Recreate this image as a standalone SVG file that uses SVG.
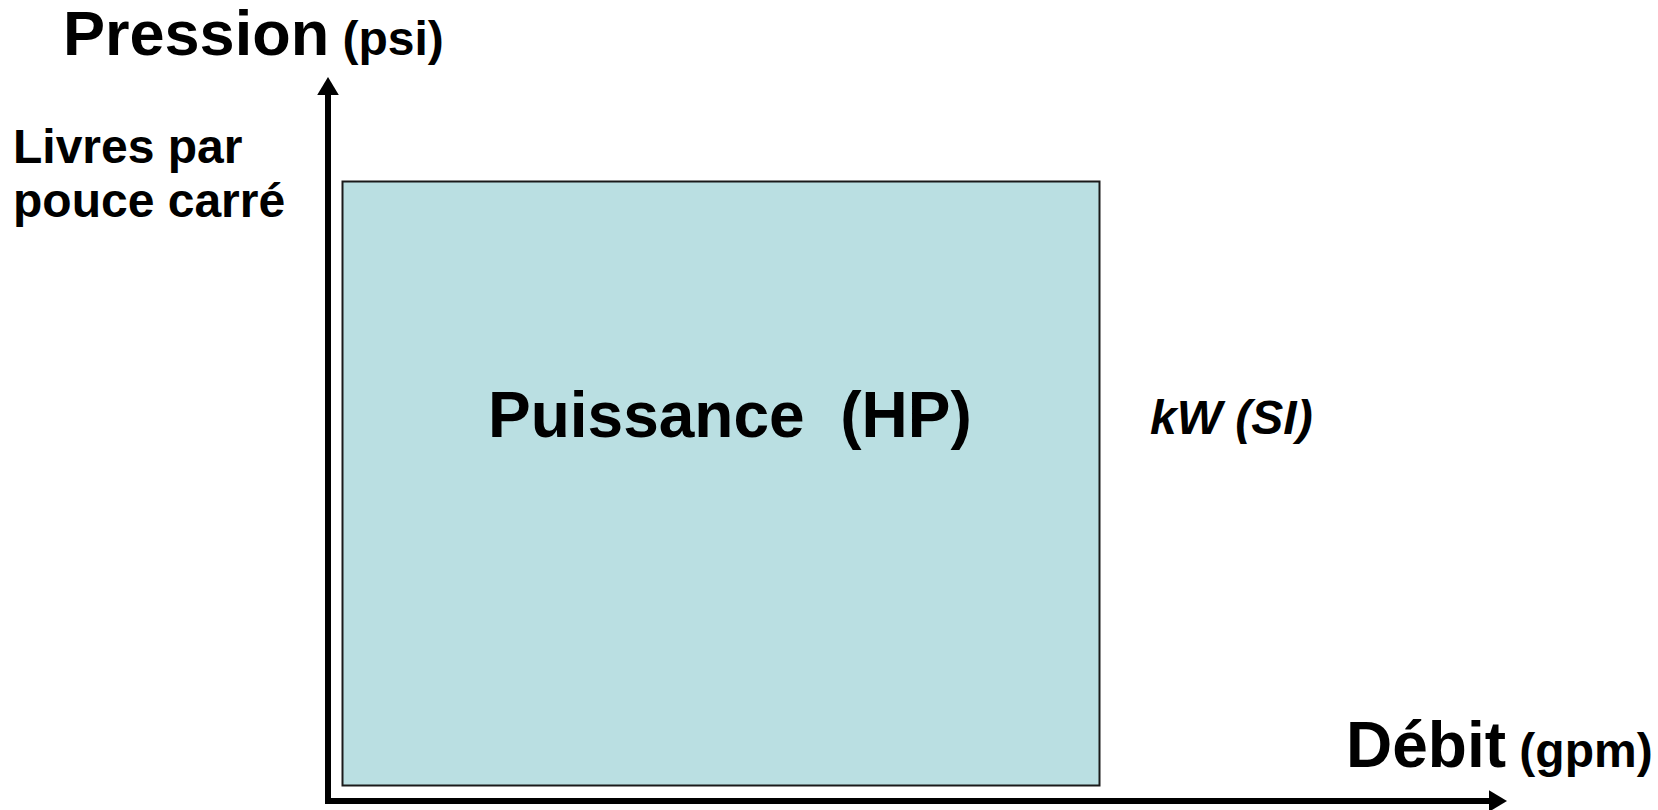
<svg xmlns="http://www.w3.org/2000/svg" width="1658" height="810" viewBox="0 0 1658 810">
  <style>
    .lbl { font-family: "Liberation Sans", Arial, sans-serif; font-weight: bold; fill: #000; white-space: pre; }
    .axis { stroke: #000; stroke-width: 6; fill: none; }
  </style>
  <defs>
    <!-- filled triangular head, starts where the axis line ends -->
    <marker id="arrow" viewBox="0 0 10 12" refX="0" refY="6" markerWidth="3" markerHeight="3.6" orient="auto" markerUnits="strokeWidth">
      <path d="M0,0 L10,6 L0,12 Z" fill="#000"/>
    </marker>
  </defs>
  <rect width="1658" height="810" fill="#fff"/>

  <!-- axes -->
  <g id="connectors">
    <path class="axis" d="M328,804 L328,95" marker-end="url(#arrow)"/>
    <path class="axis" d="M325,801 L1489,801" marker-end="url(#arrow)"/>
  </g>

  <!-- power area -->
  <g id="power">
    <rect x="342.5" y="181.5" width="757" height="604" fill="#BADFE2" stroke="#1a1a1a" stroke-width="2"/>
    <text class="lbl" x="488" y="437" font-size="64" xml:space="preserve">Puissance  (HP)</text>
  </g>

  <g id="si-unit">
    <text class="lbl" x="1150" y="434" font-size="48" font-style="italic">kW (SI)</text>
  </g>

  <g id="y-label">
    <text class="lbl" x="63" y="55"><tspan font-size="63">Pression</tspan><tspan font-size="48"> (psi)</tspan></text>
  </g>

  <g id="y-unit">
    <text class="lbl" font-size="48">
      <tspan x="13" y="163">Livres par</tspan>
      <tspan x="13" y="217">pouce carré</tspan>
    </text>
  </g>

  <g id="x-label">
    <text class="lbl" x="1346" y="767"><tspan font-size="64">Débit</tspan><tspan font-size="48"> (gpm)</tspan></text>
  </g>
</svg>
